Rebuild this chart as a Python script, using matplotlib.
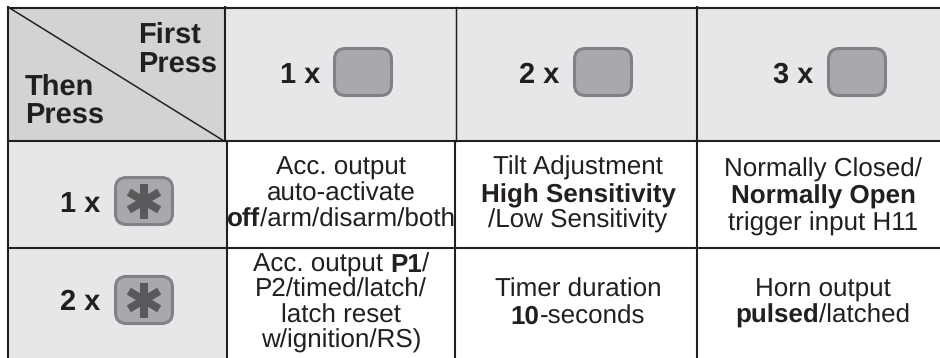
import matplotlib
matplotlib.use('Agg')
import matplotlib.pyplot as plt
from matplotlib.patches import Rectangle, FancyBboxPatch

plt.rcParams['font.family'] = ['Liberation Sans', 'DejaVu Sans']
plt.rcParams['text.hinting'] = 'no_hinting'
plt.rcParams['text.hinting_factor'] = 1

INK = '#231f20'

# table text, (text, bold) runs for every line
first_press = ['1 x', '2 x', '3 x']
then_press = ['1 x', '2 x']
corner_first = ['First', 'Press']
corner_then = ['Then', 'Press']
cell_1_1 = [[('Acc. output', False)], [('auto-activate', False)], [('off', True), ('/arm/disarm/both', False)]]
cell_1_2 = [[('Tilt Adjustment', False)], [('High Sensitivity', True)], [('/Low Sensitivity', False)]]
cell_1_3 = [[('Normally Closed/', False)], [('Normally Open', True)], [('trigger input H11', False)]]
cell_2_1 = [[('Acc. output ', False), ('P1', True), ('/', False)], [('P2/timed/latch/', False)],
            [('latch reset', False)], [('w/ignition/RS)', False)]]
cell_2_2 = [[('Timer duration', False)], [('10', True), ('-seconds', False)]]
cell_2_3 = [[('Horn output', False)], [('pulsed', True), ('/latched', False)]]

fig = plt.figure(figsize=(9.4, 3.58), dpi=100)
ax = fig.add_axes([0, 0, 1, 1])
ax.set_xlim(0, 940)
ax.set_ylim(358, 0)
ax.axis('off')
renderer = fig.canvas.get_renderer()


def run_width(s, bold, size):
    # the bar keeps trailing spaces in the measurement
    a = ax.text(0, 0, s + '|', fontsize=size, fontweight='bold' if bold else 'normal')
    b = ax.text(0, 0, '|', fontsize=size, fontweight='bold' if bold else 'normal')
    w = a.get_window_extent(renderer).width - b.get_window_extent(renderer).width
    a.remove()
    b.remove()
    return w


def draw_cell(lines, cx, baselines, size=18.6):
    for runs, y in zip(lines, baselines):
        widths = [run_width(s, b, size) for s, b in runs]
        x = cx - sum(widths) / 2
        for (s, b), w in zip(runs, widths):
            ax.text(x, y, s, fontsize=size, fontweight='bold' if b else 'normal',
                    color=INK, ha='left', va='baseline')
            x += w


def draw_button(x0, y0, star=False):
    ax.add_patch(FancyBboxPatch((x0 + 12, y0 + 12), 36, 26, boxstyle='round,pad=10.5,rounding_size=11',
                                fc='#a7a9ac', ec='#808285', lw=2.2, zorder=3))
    if star:
        cx, cy = x0 + 30, y0 + 25
        for dx, dy in [(0, 17.5), (15.2, 8.8), (15.2, -8.8)]:
            ax.plot([cx - dx, cx + dx], [cy - dy, cy + dy], color='#58595b', lw=5.8,
                    solid_capstyle='butt', zorder=4)


# backgrounds
ax.add_patch(Rectangle((8, 7), 932, 134, fc='#e6e7e8', ec='none'))
ax.add_patch(Rectangle((8, 141), 218, 217, fc='#e6e7e8', ec='none'))
ax.add_patch(Rectangle((8, 7), 217, 134, fc='#d1d3d4', ec='none'))

# grid lines
lw = 1.5
ax.plot([8, 940], [7.5, 7.5], color=INK, lw=lw)
ax.plot([8, 940], [141, 141], color=INK, lw=lw)
ax.plot([8, 940], [248, 248], color=INK, lw=lw)
ax.plot([8, 8], [7, 358], color=INK, lw=lw)
ax.plot([225, 225], [7, 141], color=INK, lw=lw)
ax.plot([227, 227], [141, 358], color=INK, lw=lw)
ax.plot([456, 456], [7, 141], color=INK, lw=lw * 0.7)
ax.plot([455, 455], [141, 358], color=INK, lw=lw)
ax.plot([697, 697], [7, 358], color=INK, lw=lw)
ax.plot([8, 224], [7, 141], color=INK, lw=1.1)

# corner cell
bold = dict(fontsize=21, fontweight='bold', color=INK, ha='left', va='baseline')
ax.text(138, 43, corner_first[0], **bold)
ax.text(138, 73, corner_first[1], **bold)
ax.text(25, 95, corner_then[0], **bold)
ax.text(25, 124, corner_then[1], **bold)

# header row
for label, lx, bx in zip(first_press, [280, 519, 773], [333, 573, 827]):
    ax.text(lx, 83, label, **bold)
    draw_button(bx, 47)

# first column
for label, by, base in zip(then_press, [176, 275], [212, 310]):
    ax.text(60, base, label, **bold)
    draw_button(114, by, star=True)

# body cells
draw_cell(cell_1_1, 341, [175, 201, 227])
draw_cell(cell_1_2, 578, [175, 202, 228])
draw_cell(cell_1_3, 823, [177, 204, 231])
draw_cell(cell_2_1, 341, [272, 297, 323, 348])
draw_cell(cell_2_2, 578, [297, 324])
draw_cell(cell_2_3, 823, [297, 323])

fig.savefig('out.png', dpi=100)
